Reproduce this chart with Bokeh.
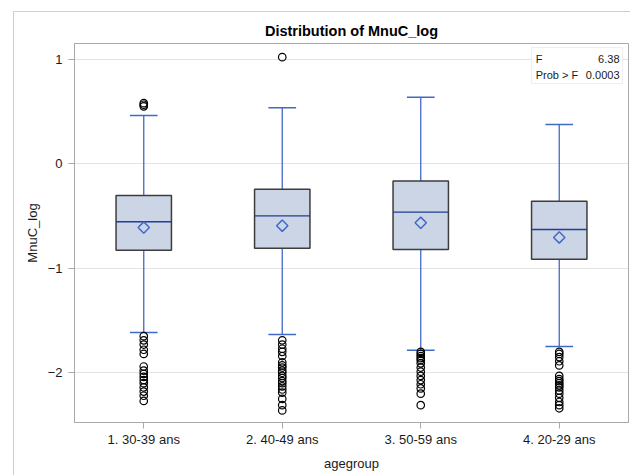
import numpy as np
from bokeh.plotting import figure
from bokeh.models import (ColumnDataSource, FactorRange, FixedTicker, BoxAnnotation, Label)
from bokeh.transform import dodge
from bokeh.embed import file_html
from bokeh.resources import INLINE

# ---- data ----
groups = ["1. 30-39 ans", "2. 40-49 ans", "3. 50-59 ans", "4. 20-29 ans"]
q1 = [-0.827, -0.808, -0.820, -0.913]
median = [-0.555, -0.498, -0.463, -0.629]
q3 = [-0.303, -0.243, -0.166, -0.358]
mean = [-0.610, -0.593, -0.565, -0.705]
whisk_low = [-1.614, -1.634, -1.785, -1.748]
whisk_high = [0.462, 0.536, 0.637, 0.376]

out_g1 = [0.55, 0.565, 0.58, -1.65, -1.69, -1.73, -1.78, -1.82, -1.94, -1.98, -2.01,
          -2.04, -2.07, -2.10, -2.14, -2.18, -2.22, -2.27]
out_g2 = [1.02, -1.69, -1.73, -1.77, -1.80, -1.84, -1.90, -1.93, -1.95, -1.98, -2.00,
          -2.03, -2.05, -2.08, -2.10, -2.13, -2.16, -2.19, -2.25, -2.31, -2.36]
out_g3 = [-1.80, -1.82, -1.84, -1.86, -1.88, -1.91, -1.95, -1.99, -2.03, -2.07, -2.11,
          -2.15, -2.20, -2.31]
out_g4 = [-1.80, -1.82, -1.85, -1.89, -1.93, -2.03, -2.06, -2.08, -2.10, -2.12, -2.14,
          -2.17, -2.20, -2.24, -2.28, -2.31, -2.34]

y_ticks = [-2, -1, 0, 1]
f_value = "6.38"
prob_f = "0.0003"

FONT = "Liberation Sans"
W, H = 630, 475

box_src = ColumnDataSource(dict(g=groups, q1=q1, q3=q3, med=median, mean=mean,
                                lo=whisk_low, hi=whisk_high))
out_x, out_y = [], []
for g, vals in zip(groups, [out_g1, out_g2, out_g3, out_g4]):
    out_x += [g] * len(vals)
    out_y += vals
out_src = ColumnDataSource(dict(x=out_x, y=out_y))

p = figure(x_range=FactorRange(*groups), y_range=(-2.476, 1.151),
           frame_width=554, frame_height=379,
           min_border_left=74, min_border_right=2, min_border_top=43, min_border_bottom=53,
           output_backend="svg", toolbar_location=None, title="Distribution of MnuC_log")

p.title.align = "center"
p.title.text_font = FONT
p.title.text_font_size = "14.5px"
p.title.text_font_style = "bold"
p.title.text_color = "#000000"

p.outline_line_color = "#a9a9a9"
p.background_fill_color = "white"
# transparent border area so the outer graph border (CSS background) shows through
p.border_fill_color = None
p.styles = {
    "background-color": "white",
    "background-image": "linear-gradient(#cfcfcf, #cfcfcf), linear-gradient(#cfcfcf, #cfcfcf)",
    "background-position": "13px 11px, 13px 11px",
    "background-size": "1px 100%, 100% 1px",
    "background-repeat": "no-repeat",
}

p.xgrid.grid_line_color = None
p.ygrid.grid_line_color = "#e3e3e3"
p.yaxis.ticker = FixedTicker(ticks=y_ticks)

for ax in (p.xaxis, p.yaxis):
    ax.axis_line_color = "#a9a9a9"
    ax.major_tick_line_color = "#a9a9a9"
    ax.minor_tick_line_color = None
    ax.major_tick_in = 0
    ax.major_tick_out = 6
    ax.major_label_text_font = FONT
    ax.major_label_text_font_size = "13px"
    ax.major_label_text_color = "#1a1a1a"
    ax.axis_label_text_font = FONT
    ax.axis_label_text_font_size = "13px"
    ax.axis_label_text_font_style = "normal"
    ax.axis_label_text_color = "#1a1a1a"

p.xaxis.axis_label = "agegroup"
p.yaxis.axis_label = "MnuC_log"
p.yaxis.major_label_standoff = 6
p.xaxis.major_label_standoff = 3
p.xaxis.axis_label_standoff = 6

blue = "#4169c6"
navy = "#1f3f8f"

# whiskers
p.segment(x0="g", x1="g", y0="q3", y1="hi", source=box_src, line_color=blue, line_width=1.3)
p.segment(x0="g", x1="g", y0="q1", y1="lo", source=box_src, line_color=blue, line_width=1.3)
# caps
p.segment(x0=dodge("g", -0.1, range=p.x_range), x1=dodge("g", 0.1, range=p.x_range),
          y0="hi", y1="hi", source=box_src, line_color=blue, line_width=1.5)
p.segment(x0=dodge("g", -0.1, range=p.x_range), x1=dodge("g", 0.1, range=p.x_range),
          y0="lo", y1="lo", source=box_src, line_color=blue, line_width=1.5)
# boxes
p.vbar(x="g", width=0.4, top="q3", bottom="q1", source=box_src,
       fill_color="#cbd5e6", line_color="#3c3c3c", line_width=1.5)
# median
p.segment(x0=dodge("g", -0.2, range=p.x_range), x1=dodge("g", 0.2, range=p.x_range),
          y0="med", y1="med", source=box_src, line_color=navy, line_width=1.3)
# mean
p.scatter(x="g", y="mean", source=box_src, marker="square", angle=np.pi / 4, size=8,
          fill_color=None, line_color=blue, line_width=1.5)
# outliers
p.scatter(x="x", y="y", source=out_src, marker="circle", size=7.5,
          fill_color=None, line_color="black", line_width=1.2)

# stats inset
p.add_layout(BoxAnnotation(left=3.30, right=3.957, top=1.113, bottom=0.768,
                           fill_color="white", fill_alpha=1.0,
                           line_color="#c8c8c8", line_width=1, level="overlay"))
for txt, x, y, align in [("F", 3.33, 1.005, "left"), (f_value, 3.935, 1.005, "right"),
                         ("Prob > F", 3.33, 0.853, "left"), (prob_f, 3.935, 0.853, "right")]:
    p.add_layout(Label(x=x, y=y, text=txt, text_align=align, text_baseline="middle",
                       text_font=FONT, text_font_size="11px", text_color="#1a1a1a",
                       level="overlay"))

open("out.html", "w").write(file_html(p, INLINE))
